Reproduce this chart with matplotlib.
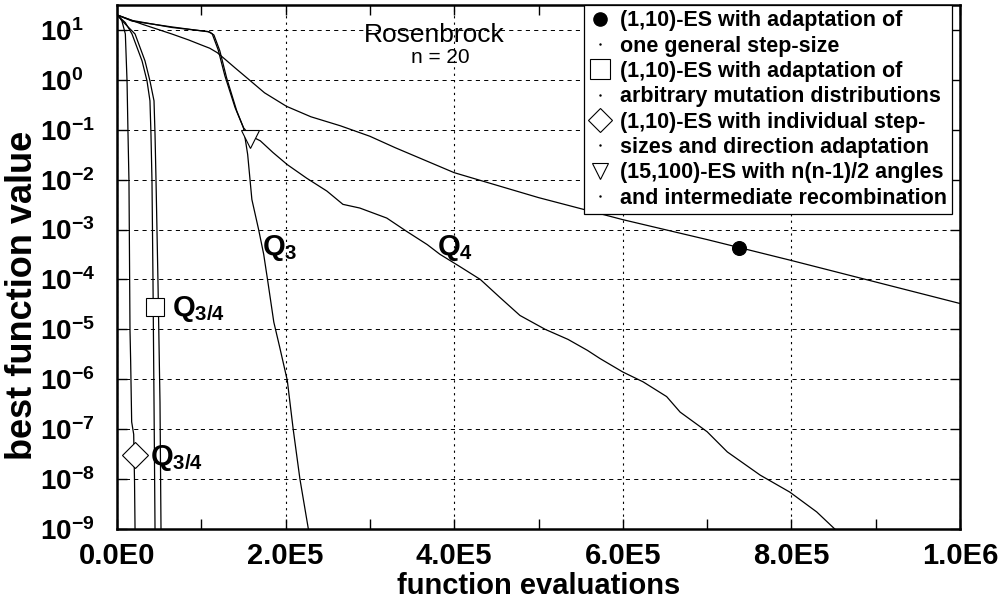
import matplotlib
matplotlib.use("Agg")
import matplotlib.pyplot as plt
from matplotlib.lines import Line2D
from matplotlib.ticker import FixedLocator, MultipleLocator, NullLocator

plt.rcParams['font.family'] = ['Liberation Sans', 'DejaVu Sans']
plt.rcParams['mathtext.fontset'] = 'custom'
plt.rcParams['mathtext.rm'] = 'Liberation Sans:bold'
plt.rcParams['mathtext.bf'] = 'Liberation Sans:bold'
plt.rcParams['mathtext.it'] = 'Liberation Sans:bold'
plt.rcParams['mathtext.sf'] = 'Liberation Sans:bold'
plt.rcParams['lines.scale_dashes'] = False

# ---------------- data ----------------
# (1,10)-ES, one general step-size
es1_x = [0, 3e4, 6.5e4, 8.5e4, 1.0e5, 1.1e5, 1.19e5, 1.28e5, 1.4e5, 1.54e5, 1.75e5, 2.01e5,
         2.3e5, 2.65e5, 3.0e5, 3.3e5, 4.0e5, 5.0e5, 6.0e5, 7.0e5, 8.0e5, 9.0e5, 1.0e6]
es1_y = [20, 13, 8.3, 6.3, 5.0, 4.3, 3.5, 2.6, 1.74, 1.1, 0.55, 0.295,
         0.182, 0.12, 0.074, 0.0437, 0.0138, 0.00437, 0.00158, 6.3e-4, 2.4e-4, 8.9e-5, 3.3e-5]

# (1,10)-ES, arbitrary mutation distributions (two runs, Q3/4)
sq_a_x = [0, 9.9e3, 1.78e4, 2.97e4, 3.56e4, 3.91e4, 4.03e4, 4.15e4, 4.27e4, 4.39e4, 4.51e4, 4.55e4]
sq_a_y = [20, 14, 8.3, 2.4, 0.95, 0.38, 0.081, 0.0093, 9.1e-5, 3.5e-7, 1e-9, 5e-10]
sq_b_x = [0, 1.0e4, 2.14e4, 3.32e4, 3.91e4, 4.39e4, 4.51e4, 4.63e4, 4.86e4, 5.1e4, 5.22e4, 5.25e4]
sq_b_y = [20, 13, 8.3, 2.4, 0.95, 0.38, 0.081, 0.0093, 9.1e-5, 3.5e-7, 1e-9, 5e-10]

# (1,10)-ES, individual step-sizes and direction adaptation (Q3/4)
dm_x = [0, 3e3, 5.9e3, 9.9e3, 1.19e4, 1.30e4, 1.42e4, 1.48e4, 1.54e4, 1.62e4, 1.74e4,
        1.98e4, 2.08e4, 2.14e4, 2.16e4]
dm_y = [20, 18, 15, 8.3, 0.95, 0.093, 0.0093, 3.2e-4, 1e-5, 2.3e-6, 1.4e-7,
        7.9e-8, 8.7e-9, 1e-9, 5e-10]

# (15,100)-ES, n(n-1)/2 angles, intermediate recombination: Q3 and Q4
q3_x = [0, 1.8e4, 6.5e4, 1.1e5, 1.15e5, 1.22e5, 1.30e5, 1.42e5, 1.50e5, 1.55e5, 1.60e5,
        1.68e5, 1.74e5, 1.79e5, 1.86e5, 1.93e5, 2.02e5, 2.09e5, 2.17e5, 2.27e5, 2.30e5]
q3_y = [20, 15, 11.5, 9.1, 7.9, 3.8, 1.1, 0.24, 0.11, 0.032, 0.004,
        1e-3, 3.2e-4, 8.9e-5, 1.4e-5, 4.4e-6, 9.5e-7, 1e-7, 1e-8, 1e-9, 5e-10]
q4_x = [0, 1.8e4, 6.5e4, 1.08e5, 1.13e5, 1.2e5, 1.28e5, 1.40e5, 1.50e5, 1.58e5, 1.70e5,
        1.85e5, 2.02e5, 2.25e5, 2.49e5, 2.68e5, 2.88e5, 3.2e5, 3.44e5, 3.68e5, 3.83e5,
        4.07e5, 4.31e5, 4.54e5, 4.78e5, 5.08e5, 5.35e5, 5.58e5, 5.73e5, 6.0e5, 6.24e5,
        6.52e5, 6.68e5, 7.0e5, 7.24e5, 7.63e5, 7.98e5, 8.3e5, 8.54e5, 8.6e5]
q4_y = [20, 15.5, 11.2, 9.3, 8.3, 4.0, 1.2, 0.28, 0.11, 0.076, 0.06,
        0.035, 0.020, 0.0107, 0.0059, 0.0032, 0.0027, 0.0017, 9.1e-4, 5e-4, 3.2e-4,
        1.8e-4, 1e-4, 4.4e-5, 1.9e-5, 1e-5, 6.3e-6, 3.8e-6, 2.6e-6, 1.4e-6, 8.9e-7,
        4.5e-7, 2.2e-7, 8.9e-8, 3.5e-8, 1.2e-8, 5.5e-9, 2.2e-9, 9.1e-10, 5e-10]

# single markers on the curves
circle_pt = (7.38e5, 4.2e-4)
square_pt = (4.5e4, 2.75e-5)
diamond_pt = (2.1e4, 3.0e-8)
triangle_pt = (1.58e5, 6.5e-2)

# curve annotations
q_labels = ["$\\mathbf{Q_{3}}$", "$\\mathbf{Q_{4}}$", "$\\mathbf{Q_{3/4}}$", "$\\mathbf{Q_{3/4}}$"]
q_label_x = [1.72e5, 3.8e5, 6.5e4, 3.9e4]
q_label_y = [4.2e-4, 4.2e-4, 2.6e-5, 2.6e-8]

legend_labels = ["(1,10)-ES with adaptation of", "one general step-size",
                 "(1,10)-ES with adaptation of", "arbitrary mutation distributions",
                 "(1,10)-ES with individual step-", "sizes and direction adaptation",
                 "(15,100)-ES with n(n-1)/2 angles", "and intermediate recombination"]

xtick_vals = [0, 2e5, 4e5, 6e5, 8e5, 1e6]
xtick_labels = ["0.0E0", "2.0E5", "4.0E5", "6.0E5", "8.0E5", "1.0E6"]
ytick_exps = [-9, -8, -7, -6, -5, -4, -3, -2, -1, 0, 1]

# ---------------- figure ----------------
fig = plt.figure(figsize=(10.02, 6.10), dpi=100)
ax = fig.add_axes([117/1002, 81/610, 843/1002, 524/610])
ax.set_yscale('log')
ax.set_xlim(0, 1e6)
ax.set_ylim(1e-9, 31.6)

lw = 0.9
for xs, ys in [(es1_x, es1_y), (sq_a_x, sq_a_y), (sq_b_x, sq_b_y), (dm_x, dm_y),
               (q3_x, q3_y), (q4_x, q4_y)]:
    ax.plot(xs, ys, color='black', lw=lw, zorder=3)

mk = dict(linestyle='none', color='black', mew=0.8, zorder=4)
ax.plot(*circle_pt, marker='o', ms=10, mfc='black', **mk)
ax.plot(*square_pt, marker='s', ms=13.5, mfc='white', **mk)
ax.plot(*diamond_pt, marker='D', ms=13.5, mfc='white', **mk)
ax.plot(*triangle_pt, marker='v', ms=12.5, mfc='white', **mk)

for s, x, y in zip(q_labels, q_label_x, q_label_y):
    ax.text(x, y, s, fontsize=21, ha='left', va='center', zorder=5)

# axes styling
for sp in ax.spines.values():
    sp.set_linewidth(1.8)
ax.xaxis.set_major_locator(FixedLocator(xtick_vals))
ax.set_xticklabels(xtick_labels, fontsize=21, fontweight='bold')
ax.xaxis.set_minor_locator(MultipleLocator(1e5))
ax.yaxis.set_major_locator(FixedLocator([10.0 ** e for e in ytick_exps]))
ax.yaxis.set_minor_locator(NullLocator())
ax.set_yticklabels(["$\\mathbf{10^{%d}}$" % e for e in ytick_exps], fontsize=20, ha='left')
ax.tick_params(axis='both', which='both', direction='in', top=True, right=True,
               length=7, width=1.0)
ax.tick_params(axis='y', pad=55.4)
ax.tick_params(axis='x', pad=9.5)

ax.yaxis.grid(True, linestyle=(0, (3, 3)), color='black', lw=0.7)
ax.xaxis.grid(True, which='major', linestyle=(0, (1.6, 3)), color='black', lw=0.8)
ax.set_axisbelow(True)

ax.set_xlabel("function evaluations", fontsize=21, fontweight='bold')
ax.xaxis.set_label_coords(0.5, -0.082)
ax.set_ylabel("best function value", fontsize=26, fontweight='bold')
ax.yaxis.set_label_coords(-0.091, 0.445)

ax.text(0.376, 0.943, "Rosenbrock", transform=ax.transAxes, fontsize=19,
        ha='center', va='center', zorder=5)
ax.text(0.383, 0.899, "n = 20", transform=ax.transAxes, fontsize=15,
        ha='center', va='center', zorder=5)

# legend
dot = dict(marker='.', ms=1.5, linestyle='none', color='black')
handles = [
    Line2D([], [], marker='o', ms=9.5, mfc='black', mec='black', linestyle='none'),
    Line2D([], [], **dot),
    Line2D([], [], marker='s', ms=14, mfc='white', mec='black', mew=0.8, linestyle='none'),
    Line2D([], [], **dot),
    Line2D([], [], marker='D', ms=12.5, mfc='white', mec='black', mew=0.8, linestyle='none'),
    Line2D([], [], **dot),
    Line2D([], [], marker='v', ms=12, mfc='white', mec='black', mew=0.8, linestyle='none'),
    Line2D([], [], **dot),
]
leg = ax.legend(handles, legend_labels, loc='upper right', bbox_to_anchor=(0.9905, 1.0),
                borderaxespad=0, prop={'family': 'Liberation Sans', 'weight': 'bold', 'size': 15.5},
                labelspacing=0.2, handlelength=1.0, handletextpad=0.4, borderpad=0.25,
                fancybox=False, framealpha=1, edgecolor='black')
leg.get_frame().set_linewidth(0.9)
leg.set_zorder(6)

fig.savefig("out.png", dpi=100)
